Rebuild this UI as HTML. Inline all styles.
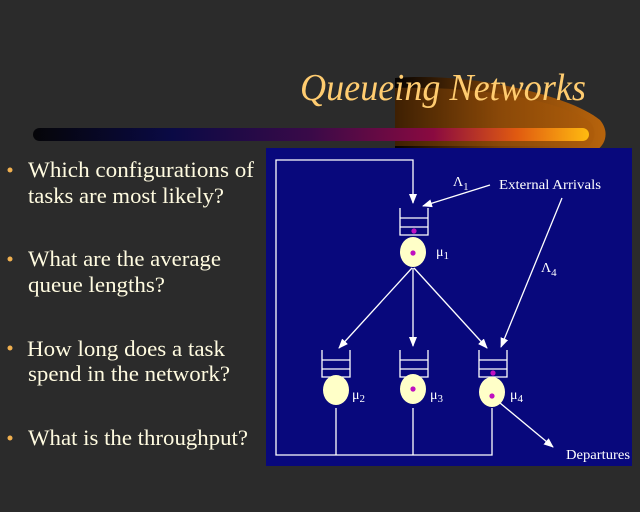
<!DOCTYPE html>
<html><head><meta charset="utf-8"><style>
html,body{margin:0;padding:0;background:#2b2b2b;}
svg{display:block}
</style></head><body>
<svg width="640" height="512" viewBox="0 0 640 512" xmlns="http://www.w3.org/2000/svg">
<defs>
<linearGradient id="glow" x1="0" x2="1" y1="0" y2="0">
<stop offset="0" stop-color="#050200"/><stop offset="0.5" stop-color="#7a4008"/><stop offset="1" stop-color="#b8640c"/>
</linearGradient>
<linearGradient id="bar" x1="0" x2="1" y1="0" y2="0">
<stop offset="0" stop-color="#050508"/><stop offset="0.25" stop-color="#0a0a45"/><stop offset="0.5" stop-color="#3a0a48"/><stop offset="0.72" stop-color="#8a0a40"/><stop offset="0.87" stop-color="#e05a10"/><stop offset="1" stop-color="#ffbb10"/>
</linearGradient>
<marker id="ar" markerWidth="10" markerHeight="8" refX="9" refY="4" orient="auto" markerUnits="userSpaceOnUse">
<path d="M0,0 L10,4 L0,8 Z" fill="#fff"/></marker>
</defs>
<rect width="640" height="512" fill="#2b2b2b"/>
<path d="M395,78 C470,72 570,95 600,120 C610,132 605,145 597,150 L395,150 Z" fill="url(#glow)"/>
<path d="M395,88 C480,86 560,100 590,122 C598,132 594,142 588,146 L395,146 Z" fill="#a85a0a" opacity="0.35"/>
<text x="300" y="100" font-family="Liberation Serif, serif" font-style="italic" font-size="38" fill="#ffcc70" textLength="286" lengthAdjust="spacingAndGlyphs">Queueing Networks</text>
<rect x="33" y="128" width="556" height="13" rx="6.5" fill="url(#bar)"/>
<g font-family="Liberation Serif, serif" font-size="22" fill="#fffbe0">
<circle cx="10" cy="170" r="2.5" fill="#f0b050"/>
<text x="28" y="177" textLength="226" lengthAdjust="spacingAndGlyphs">Which configurations of</text>
<text x="28" y="203" textLength="196" lengthAdjust="spacingAndGlyphs">tasks are most likely?</text>
<circle cx="10" cy="259" r="2.5" fill="#f0b050"/>
<text x="28" y="266" textLength="193" lengthAdjust="spacingAndGlyphs">What are the average</text>
<text x="28" y="292" textLength="137" lengthAdjust="spacingAndGlyphs">queue lengths?</text>
<circle cx="10" cy="348" r="2.5" fill="#f0b050"/>
<text x="27" y="356" textLength="198" lengthAdjust="spacingAndGlyphs">How long does a task</text>
<text x="28" y="381" textLength="202" lengthAdjust="spacingAndGlyphs">spend in the network?</text>
<circle cx="10" cy="438" r="2.5" fill="#f0b050"/>
<text x="28" y="445" textLength="220" lengthAdjust="spacingAndGlyphs">What is the throughput?</text>
</g>
<rect x="266" y="148" width="366" height="318" fill="#08087c"/>
<g stroke="#fff" stroke-width="1.3" fill="none">
<path d="M413,455 L276,455 L276,160 L413,160 L413,203" marker-end="url(#ar)"/>
<path d="M336,408 V455 M413,408 V455 M492,408 V455 L413,455"/>
<line x1="490" y1="185" x2="423" y2="206" marker-end="url(#ar)"/>
<line x1="562" y1="198" x2="501" y2="347" marker-end="url(#ar)"/>
<line x1="412" y1="268" x2="339" y2="348" marker-end="url(#ar)"/>
<line x1="413" y1="268" x2="413" y2="346" marker-end="url(#ar)"/>
<line x1="414" y1="268" x2="487" y2="348" marker-end="url(#ar)"/>
<line x1="500" y1="403" x2="553" y2="447" marker-end="url(#ar)"/>
<path d="M400,208 V235 H428 V208 M400,218 H428 M400,227 H428"/>
<path d="M322,350 V377 H350 V350 M322,360 H350 M322,369 H350"/>
<path d="M400,350 V377 H428 V350 M400,360 H428 M400,369 H428"/>
<path d="M479,350 V377 H507 V350 M479,360 H507 M479,369 H507"/>
</g>
<g fill="#ffffc8">
<ellipse cx="413" cy="252" rx="13" ry="15"/>
<ellipse cx="336" cy="390" rx="13" ry="15"/>
<ellipse cx="413" cy="389" rx="13" ry="15"/>
<ellipse cx="492" cy="392" rx="13" ry="15"/>
</g>
<g fill="#c010c0">
<circle cx="414" cy="231" r="2.6"/><circle cx="413" cy="253" r="2.6"/>
<circle cx="413" cy="389" r="2.6"/><circle cx="493" cy="373" r="2.6"/><circle cx="492" cy="396" r="2.6"/>
</g>
<g font-family="Liberation Serif, serif" fill="#fff" font-size="14">
<text x="453" y="186">Λ<tspan font-size="11" dy="4">1</tspan></text>
<text x="499" y="189" textLength="102" lengthAdjust="spacingAndGlyphs">External Arrivals</text>
<text x="541" y="272">Λ<tspan font-size="11" dy="4">4</tspan></text>
<text x="436" y="256">μ<tspan font-size="11" dy="3">1</tspan></text>
<text x="352" y="399">μ<tspan font-size="11" dy="3">2</tspan></text>
<text x="430" y="399">μ<tspan font-size="11" dy="3">3</tspan></text>
<text x="510" y="399">μ<tspan font-size="11" dy="3">4</tspan></text>
<text x="566" y="459" textLength="64" lengthAdjust="spacingAndGlyphs">Departures</text>
</g>
</svg>
</body></html>
